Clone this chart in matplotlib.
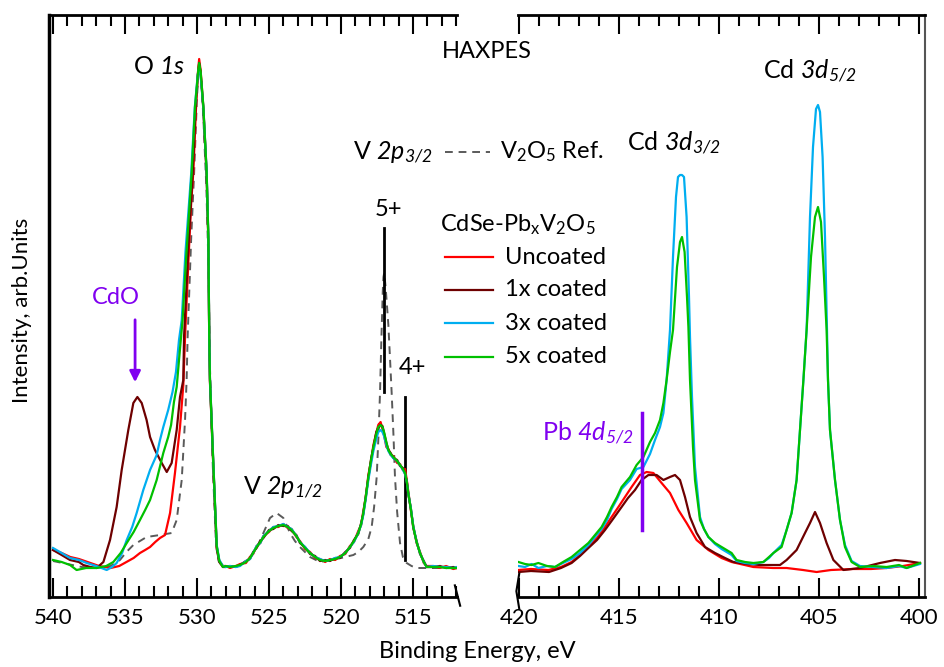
import matplotlib
matplotlib.use('Agg')
import matplotlib.pyplot as plt
from matplotlib.ticker import MultipleLocator
from matplotlib.lines import Line2D

plt.rcParams['font.family'] = ['Lato', 'DejaVu Sans']
plt.rcParams['mathtext.fontset'] = 'custom'
plt.rcParams['mathtext.rm'] = 'Lato'
plt.rcParams['mathtext.it'] = 'Lato:italic'
plt.rcParams['mathtext.sf'] = 'Lato:italic'   # \mathsf -> cursiva que tambien inclina los digitos
plt.rcParams['mathtext.bf'] = 'Lato:bold'

# ---------------- datos: panel izquierdo (O 1s / V 2p) ----------------
# lado de alta energia de ligadura (540 -> 528.2 eV)
o_ev_red = [540.0, 539.4, 538.8, 538.2, 537.4, 536.8, 536.0, 535.4, 534.9, 534.4, 533.96, 533.6,
            533.26, 532.9, 532.57, 532.22, 531.87, 531.53, 531.18, 530.95, 530.83, 530.6, 530.4,
            530.26, 530.05, 529.95, 529.85, 529.75, 529.56, 529.33, 529.21, 529.15, 529.1, 528.87,
            528.63, 528.45, 528.2]
o_int_red = [47, 44, 40, 38, 34, 31, 29, 31, 35, 39, 44, 47, 50, 55, 59, 62, 84, 124, 170, 212, 260,
             335, 395, 424, 495, 522, 538, 527, 490, 424, 357, 260, 217, 134, 50, 36, 31]

o_ev_1x = [540.0, 539.4, 538.82, 538.2, 537.9, 537.4, 536.97, 536.5, 536.04, 535.58, 535.23, 534.77,
           534.42, 534.14, 533.84, 533.5, 533.26, 532.92, 532.45, 532.1, 531.76, 531.41, 531.18,
           530.95, 530.9, 530.6, 530.3, 530.1, 529.95, 529.85, 529.75, 529.56, 529.33, 529.21,
           529.15, 529.1, 528.87, 528.63, 528.45, 528.2]
o_int_1x = [47, 42, 37, 35, 32, 30, 29, 35, 57, 90, 127, 167, 194, 200, 194, 177, 160, 147, 134, 125,
            134, 167, 200, 217, 260, 350, 424, 490, 520, 534, 524, 488, 422, 355, 258, 215, 132, 48,
            35, 30]

o_ev_3x = [540.0, 539.4, 538.82, 538.2, 537.66, 537.0, 536.27, 535.9, 535.58, 535.2, 534.88, 534.5,
           534.19, 533.73, 533.26, 532.8, 532.57, 532.34, 532.0, 531.7, 531.46, 531.25, 531.06,
           530.8, 530.4, 530.15, 529.95, 529.85, 529.75, 529.56, 529.33, 529.21, 529.15, 529.1,
           528.87, 528.63, 528.45, 528.2]
o_int_3x = [49, 44, 39, 37, 34, 31, 27, 30, 34, 44, 57, 70, 84, 107, 127, 142, 157, 170, 187, 205,
            225, 257, 277, 345, 424, 490, 522, 530, 522, 490, 426, 360, 262, 219, 136, 52, 37, 31]

o_ev_5x = [540.0, 539.4, 538.82, 538.36, 537.7, 536.97, 536.3, 535.81, 535.3, 534.88, 534.4, 533.96,
           533.6, 533.26, 532.8, 532.34, 532.0, 531.8, 531.6, 531.41, 531.2, 531.0, 530.75, 530.37,
           530.14, 529.93, 529.85, 529.75, 529.56, 529.33, 529.21, 529.15, 529.1, 528.87, 528.63,
           528.45, 528.2]
o_int_5x = [37, 35, 32, 27, 29, 29, 31, 35, 44, 54, 65, 77, 87, 97, 117, 144, 160, 172, 195, 210, 245,
            277, 340, 424, 490, 524, 534, 526, 491, 425, 358, 261, 218, 135, 51, 36, 30]

# region V 2p (528 -> 512 eV), misma malla para las cuatro muestras
v_ev = [528.0, 527.71, 527.3, 527.01, 526.6, 526.32, 526.1, 525.86, 525.6, 525.39, 525.0, 524.7,
        524.35, 524.0, 523.7, 523.43, 523.1, 522.85, 522.5, 522.15, 521.8, 521.46, 521.1, 520.76,
        520.4, 520.07, 519.7, 519.38, 519.1, 518.8, 518.6, 518.45, 518.28, 518.1, 517.9, 517.75,
        517.55, 517.41, 517.25, 517.12, 517.01, 516.85, 516.71, 516.55, 516.37, 516.1, 515.9, 515.7,
        515.55, 515.43, 515.33, 515.15, 514.98, 514.75, 514.51, 514.25, 514.05, 513.6, 513.13, 512.7,
        512.2, 511.95]
v_int_red = [31, 29, 31, 33, 34, 40, 43, 51, 54, 61, 65, 70, 70, 73, 69, 68, 60, 56, 48, 45, 39, 38,
             35, 38, 37, 41, 43, 51, 55, 66, 72, 86, 99, 122, 137, 152, 164, 172, 175, 168, 162, 150,
             148, 142, 141, 134, 133, 127, 128, 117, 106, 87, 71, 54, 45, 34, 31, 31, 29, 31, 28, 29]
v_int_1x = [30, 31, 30, 32, 36, 38, 45, 49, 56, 59, 67, 68, 72, 71, 71, 66, 62, 54, 50, 43, 41, 36,
            37, 36, 39, 39, 45, 49, 57, 63, 74, 83, 101, 119, 139, 149, 165, 169, 172, 171, 164, 154,
            147, 144, 139, 137, 131, 129, 123, 116, 103, 89, 69, 56, 43, 36, 30, 30, 31, 29, 30, 29]
v_int_3x = [30, 31, 30, 31, 36, 38, 44, 51, 54, 61, 66, 70, 71, 73, 70, 68, 61, 55, 50, 44, 40, 38,
            36, 37, 39, 40, 44, 50, 55, 64, 72, 82, 98, 117, 134, 146, 158, 165, 167, 165, 161, 152,
            146, 142, 139, 136, 132, 127, 123, 115, 104, 89, 71, 55, 44, 35, 30, 31, 30, 30, 29, 30]
v_int_5x = [31, 30, 31, 32, 35, 39, 44, 50, 55, 60, 66, 69, 71, 72, 70, 67, 61, 55, 49, 44, 40, 37,
            36, 37, 38, 40, 44, 50, 56, 64, 73, 84, 100, 120, 138, 150, 163, 170, 172, 170, 165, 155,
            147, 143, 140, 136, 132, 128, 124, 115, 104, 88, 70, 55, 44, 35, 30, 30, 30, 29, 29, 29]

# referencia V2O5 (linea discontinua)
ref_ev = [540.0, 539.0, 538.0, 537.0, 536.0, 535.35, 534.9, 534.42, 533.5, 532.57, 531.76, 531.41,
          531.06, 530.83, 530.72, 530.65, 530.4, 530.2, 530.0, 529.88, 529.8, 529.7, 529.56, 529.35,
          529.2, 529.1, 528.9, 528.7, 528.5, 528.2, 528.0, 527.0, 526.5, 526.09, 525.7, 525.39,
          524.93, 524.47, 524.0, 523.54, 523.2, 522.85, 522.15, 521.46, 520.8, 520.0, 519.14, 518.8,
          518.45, 518.1, 517.87, 517.7, 517.52, 517.4, 517.29, 517.2, 517.1, 517.05, 517.0, 516.9,
          516.71, 516.6, 516.48, 516.35, 516.25, 516.1, 515.9, 515.7, 515.44, 515.1, 514.75, 514.3,
          513.5, 512.5, 511.95]
ref_int = [36, 33, 30, 29, 31, 37, 45, 52, 60, 62, 64, 77, 117, 177, 217, 260, 360, 424, 500, 528,
           530, 518, 480, 410, 330, 230, 130, 60, 36, 30, 30, 32, 37, 44, 54, 64, 79, 84, 79, 64, 56,
           50, 40, 35, 37, 39, 42, 45, 50, 58, 70, 90, 120, 160, 204, 255, 305, 320, 324, 310, 272,
           240, 204, 160, 120, 85, 54, 40, 34, 31, 29, 29, 29, 29, 29]

# ---------------- datos: panel derecho (Cd 3d / Pb 4d) ----------------
cd_ev_red = [420.03, 419.4, 418.53, 417.9, 417.37, 416.95, 416.53, 416.1, 415.7, 415.37, 415.03,
             414.7, 414.37, 413.95, 413.62, 413.28, 412.87, 412.45, 412.03, 411.62, 411.12, 410.53,
             409.87, 409.37, 408.28, 407.3, 406.62, 405.8, 405.12, 404.4, 403.28, 402.4, 401.62,
             400.8, 399.95]
cd_int_red = [27, 28, 27, 30, 35, 42, 50, 59, 70, 80, 90, 100, 110, 122, 125, 124, 114, 104, 87, 74,
              57, 47, 39, 35, 30, 29, 29, 27, 25, 27, 28, 28, 29, 31, 34]

cd_ev_1x = [420.03, 419.4, 418.5, 417.9, 417.37, 416.95, 416.53, 416.1, 415.7, 415.3, 414.87, 414.55,
            414.2, 413.87, 413.53, 413.12, 412.78, 412.45, 412.2, 411.95, 411.7, 411.45, 411.12,
            410.7, 410.2, 409.7, 409.28, 408.6, 407.95, 407.4, 406.95, 406.62, 406.12, 405.7, 405.45,
            405.2, 404.95, 404.62, 404.28, 403.78, 402.95, 401.95, 401.2, 400.62, 399.95]
cd_int_1x = [25, 26, 25, 29, 34, 41, 49, 57, 67, 78, 90, 99, 107, 117, 122, 122, 117, 120, 122, 117,
             100, 80, 64, 50, 44, 39, 35, 33, 32, 32, 32, 37, 47, 64, 74, 85, 74, 54, 37, 27, 29, 34,
             37, 36, 34]

cd_ev_3x = [420.03, 419.7, 419.37, 419.03, 418.6, 418.2, 417.8, 417.37, 416.95, 416.53, 416.2, 415.87,
            415.6, 415.37, 415.1, 414.87, 414.45, 414.12, 413.78, 413.45, 413.2, 412.95, 412.78,
            412.62, 412.45, 412.3, 412.15, 412.05, 411.95, 411.85, 411.75, 411.62, 411.5, 411.45,
            411.35, 411.2, 410.95, 410.75, 410.53, 410.2, 409.87, 409.37, 409.12, 408.7, 408.28,
            407.78, 407.5, 407.28, 406.87, 406.62, 406.37, 406.12, 405.95, 405.78, 405.62, 405.45,
            405.3, 405.15, 405.05, 404.95, 404.82, 404.7, 404.6, 404.55, 404.45, 404.2, 403.95,
            403.7, 403.37, 402.95, 402.3, 401.62, 401.0, 400.62, 399.95]
cd_int_3x = [31, 30, 33, 29, 31, 30, 34, 38, 44, 52, 60, 68, 77, 88, 98, 108, 117, 128, 130, 143, 157,
             170, 184, 217, 267, 340, 400, 420, 422, 422, 420, 380, 300, 260, 200, 130, 80, 68, 60,
             53, 48, 42, 36, 34, 33, 35, 39, 44, 52, 67, 84, 117, 167, 217, 267, 380, 450, 488, 492,
             485, 440, 360, 267, 217, 167, 117, 77, 52, 36, 31, 30, 29, 31, 29, 33]

cd_ev_5x = [420.03, 419.7, 419.37, 419.03, 418.6, 418.2, 417.8, 417.37, 416.95, 416.53, 416.2, 415.87,
            415.6, 415.37, 415.1, 414.87, 414.45, 414.12, 413.78, 413.45, 413.2, 412.95, 412.78,
            412.62, 412.45, 412.3, 412.1, 411.95, 411.85, 411.72, 411.6, 411.53, 411.45, 411.3,
            411.2, 410.95, 410.75, 410.53, 410.2, 409.87, 409.37, 409.12, 408.7, 408.28, 407.78,
            407.5, 407.28, 406.87, 406.62, 406.37, 406.12, 405.95, 405.78, 405.62, 405.4, 405.2,
            405.05, 404.9, 404.75, 404.62, 404.55, 404.45, 404.2, 403.95, 403.7, 403.37, 402.95,
            402.3, 401.62, 401.0, 400.62, 399.95]
cd_int_5x = [35, 33, 32, 34, 31, 30, 35, 40, 47, 54, 62, 70, 80, 90, 100, 110, 120, 132, 140, 155, 164,
             177, 194, 217, 245, 267, 330, 355, 360, 345, 300, 270, 217, 150, 117, 77, 68, 60, 54,
             50, 44, 37, 35, 34, 35, 40, 44, 50, 67, 84, 117, 167, 217, 267, 340, 380, 390, 375, 320,
             267, 217, 167, 117, 77, 50, 35, 30, 31, 30, 32, 29, 34]

labels = ['Uncoated', '1x coated', '3x coated', '5x coated']
colors = ['#ff0000', '#6e0000', '#00aef0', '#00c000']
ref_color = '#5a5a5a'
purple = '#8000f0'

W, H = 945, 667


def fx(px):
    return px / W


def fy(py):
    return 1 - py / H


fig = plt.figure(figsize=(9.45, 6.67), dpi=100)
ax1 = fig.add_axes([fx(49.4), fy(597), 407.5 / W, 582 / H])
ax2 = fig.add_axes([fx(518), fy(597), 407 / W, 582 / H])

# curvas panel izquierdo
ax1.plot(ref_ev, ref_int, color=ref_color, lw=1.4, ls=(0, (4, 3)), zorder=2)
left_o = [(o_ev_red, o_int_red), (o_ev_1x, o_int_1x), (o_ev_3x, o_int_3x), (o_ev_5x, o_int_5x)]
left_v = [v_int_red, v_int_1x, v_int_3x, v_int_5x]
for (ev, inten), vint, c in zip(left_o, left_v, colors):
    ax1.plot(ev + v_ev, inten + vint, color=c, lw=1.6, zorder=3)

# curvas panel derecho
right = [(cd_ev_red, cd_int_red), (cd_ev_1x, cd_int_1x), (cd_ev_3x, cd_int_3x), (cd_ev_5x, cd_int_5x)]
for (ev, inten), c in zip(right, colors):
    ax2.plot(ev, inten, color=c, lw=1.6)

ax1.set_xlim(540.25, 511.95)
ax2.set_xlim(420.05, 399.7)
for ax in (ax1, ax2):
    ax.set_ylim(0, 582)
    ax.xaxis.set_major_locator(MultipleLocator(5))
    ax.xaxis.set_minor_locator(MultipleLocator(1))
    ax.tick_params(axis='x', which='both', direction='in', top=True, bottom=True,
                   labelsize=16, pad=8, width=1.5)
    ax.tick_params(axis='x', which='major', length=14)
    ax.tick_params(axis='x', which='minor', length=8)
    ax.set_yticks([])
    ax.spines['top'].set_linewidth(2)
    ax.spines['bottom'].set_linewidth(2)

ax1.spines['right'].set_visible(False)
ax1.spines['left'].set_linewidth(2.5)
ax2.spines['left'].set_visible(False)
ax2.spines['right'].set_linewidth(1.5)
ax2.spines['right'].set_color('#555555')

# marcas de corte del eje
ax1.plot([0.995, 1.008], [0.02, -0.015], transform=ax1.transAxes, color='black', lw=1.5, clip_on=False)
ax2.plot([0.003, -0.004, 0.003], [0.04, 0.01, -0.02], transform=ax2.transAxes, color='black', lw=1.5,
         clip_on=False)

# lineas de estados de oxidacion
ax1.plot([516.99, 516.99], [205, 369], color='black', lw=2)
ax1.plot([515.56, 515.56], [37, 200], color='black', lw=2)
ax2.plot([413.83, 413.83], [67, 184], color=purple, lw=2.5)
ax1.annotate('', xy=(534.3, 212), xytext=(534.3, 280),
             arrowprops=dict(arrowstyle='-|>', color=purple, lw=2, mutation_scale=16))

# textos
fig.text(fx(185), fy(66), 'O $\\mathsf{1s}$', fontsize=18, ha='right', va='center')
fig.text(fx(487), fy(52), 'HAXPES', fontsize=17, ha='center', va='center')
fig.text(fx(433), fy(152), 'V $\\mathsf{2p}_{\\mathsf{3/2}}$', fontsize=18, ha='right', va='center')
fig.text(fx(388), fy(210), '5+', fontsize=17, ha='center', va='center')
fig.text(fx(412), fy(367), '4+', fontsize=17, ha='center', va='center')
fig.text(fx(243), fy(487), 'V $\\mathsf{2p}_{\\mathsf{1/2}}$', fontsize=18, ha='left', va='center')
fig.text(fx(116), fy(297), 'CdO', fontsize=17, ha='center', va='center', color=purple)
fig.text(fx(627), fy(143), 'Cd $\\mathsf{3d}_{\\mathsf{3/2}}$', fontsize=18, ha='left', va='center')
fig.text(fx(763), fy(71), 'Cd $\\mathsf{3d}_{\\mathsf{5/2}}$', fontsize=18, ha='left', va='center')
fig.text(fx(542), fy(433), 'Pb $\\mathsf{4d}_{\\mathsf{5/2}}$', fontsize=18, ha='left', va='center',
         color=purple)

# leyenda manual
fig.add_artist(Line2D([fx(445), fx(490)], [fy(152), fy(152)], color=ref_color, lw=1.4,
                      ls=(0, (4, 3))))
fig.text(fx(500), fy(152), 'V$_2$O$_5$ Ref.', fontsize=17, ha='left', va='center')
fig.text(fx(440), fy(225), 'CdSe-Pb$_\\mathregular{x}$V$_2$O$_5$', fontsize=17, ha='left', va='center')
for i, (lab, c) in enumerate(zip(labels, colors)):
    yy = [257, 290, 323, 357][i]
    fig.add_artist(Line2D([fx(445), fx(493)], [fy(yy), fy(yy)], color=c, lw=1.6))
    fig.text(fx(505), fy(yy), lab, fontsize=17, ha='left', va='center')

fig.text(fx(477), fy(652), 'Binding Energy, eV', fontsize=17, ha='center', va='center')
fig.text(fx(22), fy(310), 'Intensity, arb.Units', fontsize=16, ha='center', va='center', rotation=90)

fig.savefig('out.png', dpi=100)
